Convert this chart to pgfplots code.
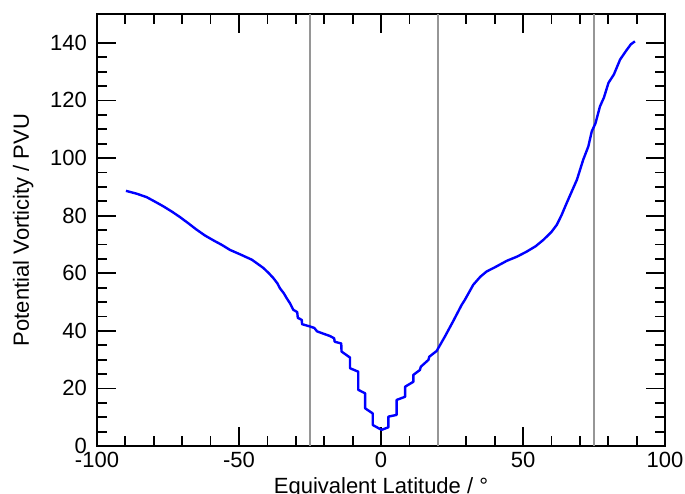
\documentclass[border=0pt]{standalone}
\usepackage{fontspec}
\setmainfont{Liberation Sans}
\usepackage{pgfplots}
\pgfplotsset{compat=1.18}
\begin{document}
\begin{tikzpicture}
\begin{axis}[
  scale only axis,
  width=284pt, height=216pt,
  xmin=-100, xmax=100, ymin=0, ymax=150,
  xtick={-100,-50,0,50,100},
  ytick={0,20,40,60,80,100,120,140},
  minor x tick num=4,
  minor y tick num=3,
  tick align=inside,
  major tick length=9.5pt,
  minor tick length=5pt,
  every tick/.style={black, line width=0.9pt},
  axis line style={line width=0.9pt},
  /pgf/number format/assume math mode=true,
  tick label style={font=\fontsize{11}{13}\selectfont},
  label style={font=\fontsize{11}{13}\selectfont},
  xticklabel style={yshift=0.5pt},
  yticklabel style={xshift=-1.5pt},
  xlabel={Equivalent Latitude / °},
  ylabel={Potential Vorticity / PVU},
  xlabel style={yshift=2pt},
  ylabel style={yshift=1.5pt},
]
\addplot[color={rgb,255:red,150;green,150;blue,150}, line width=0.75pt] coordinates {(-25,0) (-25,150)};
\addplot[color={rgb,255:red,150;green,150;blue,150}, line width=0.75pt] coordinates {(20,0) (20,150)};
\addplot[color={rgb,255:red,150;green,150;blue,150}, line width=0.75pt] coordinates {(75,0) (75,150)};
\addplot[color={rgb,255:red,0;green,0;blue,255}, line width=1.2pt, line join=round] coordinates {
(-89.8,88.6) (-86,87.6) (-82.5,86.4) (-79.5,84.8) (-76.6,83.2) (-73.5,81.3)
(-70.8,79.5) (-67.8,77.3) (-64.9,75.1) (-62,73.1) (-59.0,71.4) (-56,69.8)
(-53.2,68.1) (-49.5,66.5) (-45.5,64.7) (-43.5,63.3) (-41.4,61.8) (-39.5,60.0)
(-37.9,58.3) (-36.5,56.5) (-35.6,54.8) (-34.2,53.0) (-33.2,51.3) (-32,49.5)
(-30.9,47.3) (-29.5,46.5) (-29.3,44.5) (-27.9,43.8) (-27.8,42.3) (-25.0,41.5)
(-23.5,41.0) (-22.5,39.8) (-20,38.9) (-18,38.2) (-16.5,37.4) (-16.3,36.2)
(-14,35.6) (-13.9,32.8) (-10.9,30.7) (-10.9,27.0) (-8.0,25.8) (-8.0,19.5)
(-5.6,18.3) (-5.6,13.1) (-2.9,11.3) (-2.9,7.3) (0.2,5.6) (2.6,6.5)
(2.6,10.2) (5.5,10.8) (5.5,16.0) (8.5,17.1) (8.5,20.6) (11.4,22.3)
(11.4,24.7) (13.7,26.4) (14,27.5) (16.7,29.9) (17,31) (19.6,33.0)
(22.5,38) (25.5,43.5) (28.4,49) (29.5,50.7) (32.5,56) (35,58.8)
(37.2,60.6) (40,62.0) (44.3,64.3) (48,65.8) (51.3,67.5) (54.5,69.4)
(57.2,71.6) (60,74.3) (61.9,76.8) (63.5,80) (65.4,84.4) (67,88)
(69,92.5) (71.2,99.4) (73,104) (74.2,109.2) (75.5,112) (77.1,117.9)
(78.5,121) (80.1,126.1) (82,129) (84.2,134.2) (86.5,137.5) (88,139.5) (89.4,140.5)
};
\end{axis}
\pgfresetboundingbox
\path ([shift={(-48.5pt,-23.5pt)}]current axis.south west) rectangle ([shift={(10pt,7pt)}]current axis.north east);
\end{tikzpicture}
\end{document}
